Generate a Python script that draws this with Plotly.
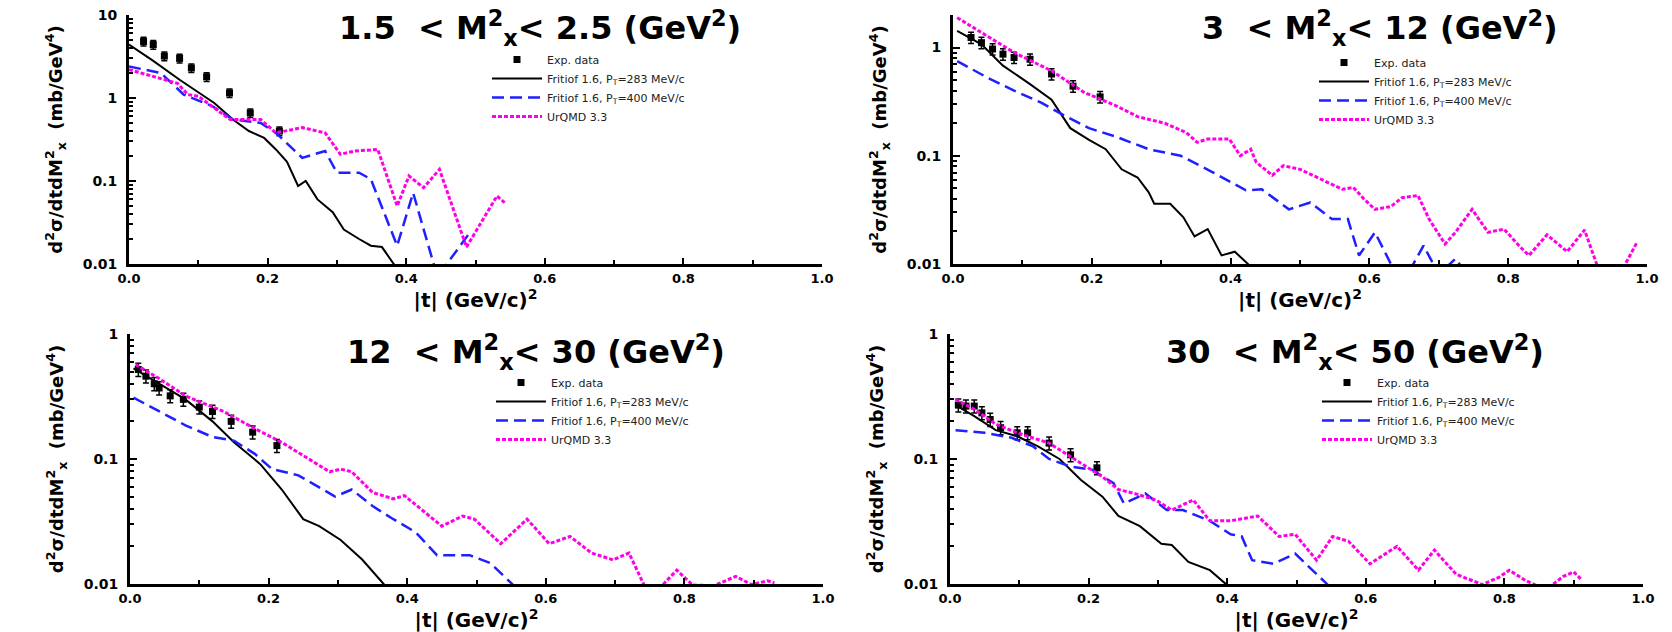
import math
import plotly.graph_objects as go

# ---------------- data ----------------
# Panel 1: 1.5 < M2x < 2.5
t1_exp = [0.021, 0.035, 0.051, 0.073, 0.090, 0.112, 0.145, 0.175, 0.217]
y1_exp = [4.8, 4.4, 3.2, 3.0, 2.3, 1.8, 1.15, 0.66, 0.40]
t1_f283 = [0.0, 0.035, 0.073, 0.123, 0.150, 0.173, 0.195, 0.212, 0.228, 0.244, 0.255, 0.272, 0.294, 0.31, 0.332, 0.349, 0.365, 0.382, 0.40]
y1_f283 = [4.4, 2.8, 1.66, 0.87, 0.55, 0.40, 0.33, 0.24, 0.17, 0.087, 0.10, 0.06, 0.042, 0.026, 0.02, 0.0166, 0.016, 0.01, 0.007]
t1_f400 = [0.0, 0.046, 0.079, 0.12, 0.15, 0.19, 0.212, 0.25, 0.283, 0.30, 0.332, 0.349, 0.387, 0.41, 0.445, 0.492]
y1_f400 = [2.4, 2.0, 1.1, 0.8, 0.55, 0.5, 0.38, 0.19, 0.23, 0.126, 0.126, 0.105, 0.0166, 0.072, 0.007, 0.024]
t1_urq = [0.0, 0.07, 0.085, 0.10, 0.146, 0.19, 0.212, 0.25, 0.283, 0.305, 0.326, 0.359, 0.387, 0.404, 0.425, 0.448, 0.487, 0.531, 0.542]
y1_urq = [2.2, 1.5, 1.1, 1.05, 0.55, 0.55, 0.38, 0.44, 0.38, 0.21, 0.23, 0.24, 0.05, 0.115, 0.083, 0.138, 0.016, 0.066, 0.055]

# Panel 2: 3 < M2x < 12
t2_exp = [0.026, 0.041, 0.057, 0.072, 0.088, 0.111, 0.142, 0.173, 0.212]
y2_exp = [1.24, 1.11, 0.97, 0.87, 0.81, 0.78, 0.57, 0.44, 0.35]
t2_f283 = [0.006, 0.041, 0.072, 0.111, 0.142, 0.169, 0.196, 0.22, 0.243, 0.266, 0.282, 0.29, 0.313, 0.332, 0.348, 0.367, 0.387, 0.406, 0.425, 0.44]
y2_f283 = [1.43, 1.07, 0.68, 0.46, 0.33, 0.18, 0.14, 0.115, 0.075, 0.063, 0.046, 0.036, 0.036, 0.027, 0.018, 0.021, 0.012, 0.013, 0.01, 0.008]
t2_f400 = [0.006, 0.049, 0.088, 0.127, 0.158, 0.196, 0.235, 0.282, 0.328, 0.375, 0.422, 0.445, 0.484, 0.515, 0.546, 0.569, 0.585, 0.608, 0.631, 0.655, 0.678, 0.70, 0.724, 0.735]
y2_f400 = [0.75, 0.53, 0.40, 0.31, 0.24, 0.18, 0.15, 0.115, 0.10, 0.07, 0.048, 0.049, 0.032, 0.037, 0.026, 0.026, 0.012, 0.0196, 0.01, 0.008, 0.0148, 0.008, 0.0112, 0.009]
t2_urq = [0.006, 0.049, 0.088, 0.142, 0.189, 0.235, 0.266, 0.305, 0.336, 0.352, 0.367, 0.398, 0.414, 0.429, 0.437, 0.46, 0.476, 0.5, 0.53, 0.561, 0.577, 0.592, 0.608, 0.631, 0.647, 0.67, 0.686, 0.709, 0.724, 0.748, 0.771, 0.794, 0.818, 0.83, 0.856, 0.885, 0.91, 0.93, 0.95, 0.965, 0.985]
y2_urq = [1.89, 1.28, 0.90, 0.61, 0.385, 0.29, 0.23, 0.20, 0.164, 0.133, 0.143, 0.143, 0.10, 0.115, 0.087, 0.066, 0.081, 0.075, 0.061, 0.049, 0.051, 0.04, 0.032, 0.034, 0.041, 0.043, 0.026, 0.0153, 0.0196, 0.032, 0.0196, 0.021, 0.0142, 0.012, 0.0186, 0.013, 0.0206, 0.009, 0.008, 0.009, 0.0156]

# Panel 3: 12 < M2x < 30
t3_exp = [0.012, 0.023, 0.035, 0.042, 0.058, 0.077, 0.10, 0.119, 0.146, 0.177, 0.212]
y3_exp = [0.52, 0.46, 0.40, 0.37, 0.32, 0.30, 0.26, 0.24, 0.20, 0.164, 0.128]
t3_f283 = [0.005, 0.042, 0.08, 0.119, 0.15, 0.188, 0.219, 0.25, 0.273, 0.304, 0.335, 0.366, 0.38]
y3_f283 = [0.53, 0.40, 0.30, 0.20, 0.136, 0.091, 0.057, 0.033, 0.029, 0.0225, 0.0157, 0.01, 0.008]
t3_f400 = [0.005, 0.042, 0.08, 0.119, 0.15, 0.18, 0.205, 0.243, 0.273, 0.296, 0.32, 0.35, 0.38, 0.412, 0.443, 0.466, 0.49, 0.52, 0.55, 0.56]
y3_f400 = [0.31, 0.24, 0.186, 0.15, 0.14, 0.11, 0.083, 0.074, 0.059, 0.05, 0.057, 0.042, 0.033, 0.026, 0.017, 0.017, 0.017, 0.0147, 0.01, 0.009]
t3_urq = [0.008, 0.042, 0.08, 0.135, 0.18, 0.219, 0.258, 0.288, 0.304, 0.32, 0.35, 0.38, 0.396, 0.427, 0.45, 0.48, 0.497, 0.535, 0.573, 0.605, 0.635, 0.666, 0.697, 0.72, 0.743, 0.766, 0.789, 0.812, 0.843, 0.874, 0.897, 0.92, 0.93]
y3_urq = [0.57, 0.44, 0.32, 0.24, 0.175, 0.136, 0.10, 0.079, 0.083, 0.079, 0.054, 0.048, 0.051, 0.037, 0.029, 0.035, 0.033, 0.021, 0.033, 0.021, 0.024, 0.0177, 0.0156, 0.0177, 0.0095, 0.0095, 0.0129, 0.0098, 0.0097, 0.0115, 0.0099, 0.0106, 0.0102]

# Panel 4: 30 < M2x < 50
t4_exp = [0.012, 0.023, 0.035, 0.046, 0.058, 0.073, 0.097, 0.112, 0.143, 0.174, 0.212]
y4_exp = [0.27, 0.265, 0.265, 0.234, 0.207, 0.178, 0.162, 0.162, 0.134, 0.108, 0.085]
t4_f283 = [0.008, 0.035, 0.066, 0.097, 0.127, 0.158, 0.189, 0.22, 0.243, 0.274, 0.305, 0.32, 0.344, 0.375, 0.398, 0.41]
y4_f283 = [0.27, 0.22, 0.17, 0.152, 0.126, 0.10, 0.068, 0.05, 0.035, 0.029, 0.021, 0.0205, 0.015, 0.0129, 0.01, 0.008]
t4_f400 = [0.008, 0.05, 0.089, 0.12, 0.143, 0.174, 0.205, 0.236, 0.251, 0.282, 0.313, 0.336, 0.375, 0.405, 0.421, 0.436, 0.467, 0.498, 0.529, 0.544, 0.55]
y4_f400 = [0.17, 0.162, 0.148, 0.126, 0.10, 0.087, 0.082, 0.064, 0.044, 0.053, 0.039, 0.039, 0.032, 0.025, 0.024, 0.0155, 0.0145, 0.0175, 0.012, 0.01, 0.009]
t4_urq = [0.008, 0.035, 0.066, 0.097, 0.143, 0.181, 0.22, 0.243, 0.266, 0.297, 0.32, 0.351, 0.375, 0.405, 0.444, 0.475, 0.498, 0.529, 0.552, 0.575, 0.606, 0.645, 0.676, 0.699, 0.73, 0.768, 0.792, 0.807, 0.83, 0.86, 0.885, 0.9, 0.91]
y4_urq = [0.30, 0.25, 0.19, 0.162, 0.134, 0.098, 0.072, 0.057, 0.053, 0.047, 0.039, 0.047, 0.032, 0.032, 0.035, 0.024, 0.025, 0.0155, 0.024, 0.022, 0.0145, 0.02, 0.0129, 0.0187, 0.012, 0.0099, 0.0113, 0.0129, 0.0107, 0.009, 0.0115, 0.0125, 0.011]

panel_titles = [
    "1.5  < M<sup>2</sup><sub>x</sub>< 2.5 (GeV<sup>2</sup>)",
    "3  < M<sup>2</sup><sub>x</sub>< 12 (GeV<sup>2</sup>)",
    "12  < M<sup>2</sup><sub>x</sub>< 30 (GeV<sup>2</sup>)",
    "30  < M<sup>2</sup><sub>x</sub>< 50 (GeV<sup>2</sup>)",
]
series_names = ["Exp. data", "Fritiof 1.6, P<sub>T</sub>=283 MeV/c",
                "Fritiof 1.6, P<sub>T</sub>=400 MeV/c", "UrQMD 3.3"]
x_tickvals = [0.0, 0.2, 0.4, 0.6, 0.8, 1.0]
x_ticktext = ["0.0", "0.2", "0.4", "0.6", "0.8", "1.0"]
y_tickvals = [0.01, 0.1, 1, 10]
y_ticktext = ["0.01", "0.1", "1", "10"]
y_top = [10, 2, 1, 1]

# ---------------- layout geometry (pixels) ----------------
W, H = 1672, 632
boxes = [  # (x0, x1, ytop, ybottom) in pixels
    (129, 822, 15, 264),
    (953, 1647, 15, 264),
    (130, 823, 334, 584),
    (950, 1643, 334, 584),
]
title_pos = [(540, 28), (1380, 28), (536, 352), (1355, 352)]
legend_pos = [(487, 45), (1314, 48), (491, 368), (1317, 368)]

data = [
    (t1_exp, y1_exp, t1_f283, y1_f283, t1_f400, y1_f400, t1_urq, y1_urq),
    (t2_exp, y2_exp, t2_f283, y2_f283, t2_f400, y2_f400, t2_urq, y2_urq),
    (t3_exp, y3_exp, t3_f283, y3_f283, t3_f400, y3_f400, t3_urq, y3_urq),
    (t4_exp, y4_exp, t4_f283, y4_f283, t4_f400, y4_f400, t4_urq, y4_urq),
]

FONT = "DejaVu Sans"
fig = go.Figure()
layout = dict(width=W, height=H, margin=dict(l=0, r=0, t=0, b=0),
              paper_bgcolor="white", plot_bgcolor="white", template="none",
              showlegend=True, annotations=[])

for i, (te, ye, ta, ya, tb, yb, tc, yc) in enumerate(data):
    k = "" if i == 0 else str(i + 1)
    xa, ya_name, lg = "x" + k, "y" + k, "legend" + k
    fig.add_trace(go.Scatter(x=te, y=ye, mode="markers", name=series_names[0],
                             marker=dict(symbol="square", size=7, color="black"),
                             error_y=dict(type="percent", value=12, thickness=1.5, width=3, color="black"),
                             xaxis=xa, yaxis=ya_name, legend=lg))
    fig.add_trace(go.Scatter(x=ta, y=ya, mode="lines", name=series_names[1],
                             line=dict(color="black", width=2),
                             xaxis=xa, yaxis=ya_name, legend=lg))
    fig.add_trace(go.Scatter(x=tb, y=yb, mode="lines", name=series_names[2],
                             line=dict(color="#1f1fff", width=2.5, dash="12px,6px"),
                             xaxis=xa, yaxis=ya_name, legend=lg))
    fig.add_trace(go.Scatter(x=tc, y=yc, mode="lines", name=series_names[3],
                             line=dict(color="#ff00e6", width=3, dash="4px,2px"),
                             xaxis=xa, yaxis=ya_name, legend=lg))

    x0, x1, yt, yb_ = boxes[i]
    top = y_top[i]
    minor_vals = [m * 10 ** e for e in range(-2, 2) for m in range(2, 10) if m * 10 ** e < top]
    layout["xaxis" + k] = dict(
        domain=[x0 / W, x1 / W], anchor=ya_name, range=[0, 1],
        tickmode="array", tickvals=x_tickvals, ticktext=x_ticktext,
        ticks="inside", ticklen=6, tickwidth=2, tickcolor="black",
        minor=dict(tickmode="array", tickvals=[0.1, 0.3, 0.5, 0.7, 0.9], ticks="inside", ticklen=4, tickwidth=2, tickcolor="black"),
        showline=True, linewidth=3, linecolor="black", mirror=False,
        showgrid=False, zeroline=False, automargin=False,
        tickfont=dict(family=FONT, size=13, weight="bold", color="black"),
        title=dict(text="|t| (GeV/c)<sup>2</sup>", standoff=3,
                   font=dict(family=FONT, size=20, weight="bold", color="black")),
    )
    layout["yaxis" + k] = dict(
        domain=[1 - yb_ / H, 1 - yt / H], anchor=xa, type="log",
        range=[-2, math.log10(top)],
        tickmode="array", tickvals=[v for v in y_tickvals if v <= top],
        ticktext=[t for v, t in zip(y_tickvals, y_ticktext) if v <= top],
        ticks="inside", ticklen=7, tickwidth=2, tickcolor="black",
        minor=dict(tickmode="array", tickvals=minor_vals, ticks="inside", ticklen=4, tickwidth=2, tickcolor="black"),
        showline=True, linewidth=3, linecolor="black", mirror=False,
        showgrid=False, zeroline=False, automargin=False, ticklabelstandoff=6,
        tickfont=dict(family=FONT, size=14, weight="bold", color="black"),
        title=dict(text="d<sup>2</sup>σ/dtdM<sup>2</sup><sub>x</sub>  (mb/GeV<sup>4</sup>)", standoff=16,
                   font=dict(family=FONT, size=18, weight="bold", color="black")),
    )
    lx, ly = legend_pos[i]
    layout[lg] = dict(x=lx / W, y=1 - ly / H, xanchor="left", yanchor="top",
                      bgcolor="rgba(0,0,0,0)", borderwidth=0, itemwidth=50,
                      font=dict(family=FONT, size=11, color="#222222"))
    tx, ty = title_pos[i]
    layout["annotations"].append(dict(
        text=panel_titles[i], x=tx / W, y=1 - ty / H, xref="paper", yref="paper",
        xanchor="center", yanchor="middle", showarrow=False,
        font=dict(family=FONT, size=32, weight="bold", color="black")))

fig.update_layout(**layout)
fig.write_html("out.html", config={"displayModeBar": False},
               post_script="document.body.style.margin='0';document.body.style.overflow='hidden';")
